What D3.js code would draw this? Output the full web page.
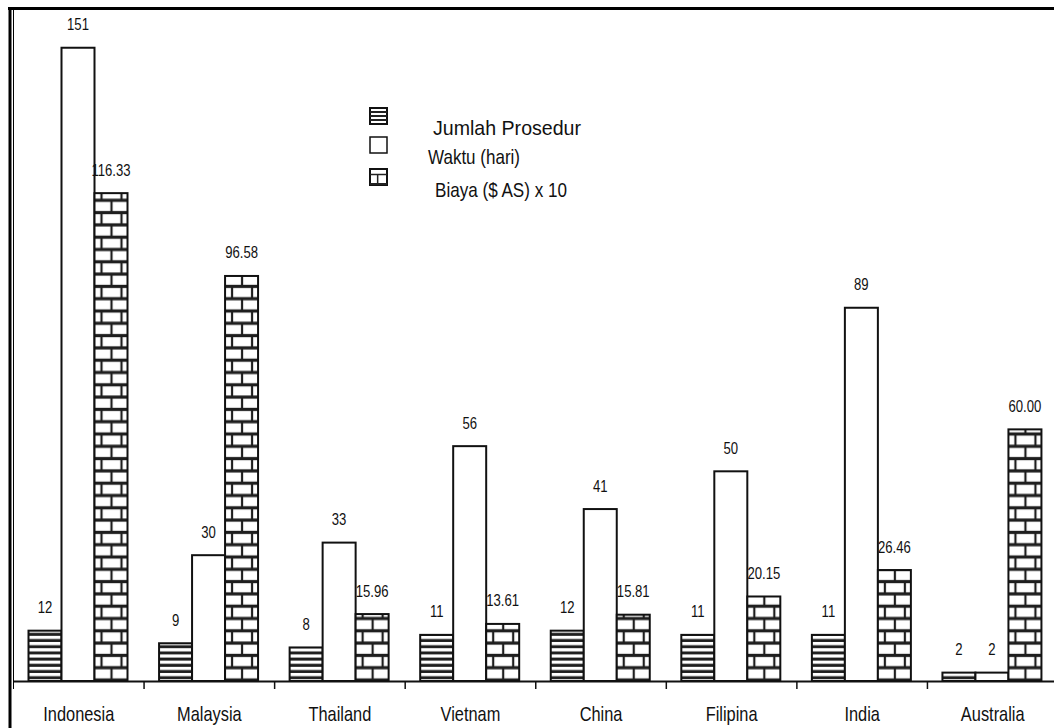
<!DOCTYPE html>
<html><head><meta charset="utf-8">
<script src="https://cdnjs.cloudflare.com/ajax/libs/d3/7.8.5/d3.min.js"></script>
<style>
html,body{margin:0;padding:0;background:#fff;}
svg{display:block;}
text{font-family:"Liberation Sans",Arial,sans-serif;fill:#111;}
</style></head>
<body>
<svg id="chart" width="1054" height="728"></svg>
<script>
const categories = ["Indonesia","Malaysia","Thailand","Vietnam","China","Filipina","India","Australia"];
const jumlahProsedur = [12,9,8,11,12,11,11,2];
const waktuHari = [151,30,33,56,41,50,89,2];
const biayaX10 = [116.33,96.58,15.96,13.61,15.81,20.15,26.46,60.00];
const seriesNames = ["Jumlah Prosedur","Waktu (hari)","Biaya ($ AS) x 10"];
const seriesKeys = ["jumlah","waktu","biaya"];
const yDomain = [0,160];

const svg = d3.select("#chart");
const W = 1054, H = 728;
const baseY = 681, topY = 10;
const SX = 0.82; // narrow text

const x0 = d3.scaleBand().domain(categories).range([13.5, 1058]).paddingInner(0).paddingOuter(0);
const groupW = 99;
const off = 15;
const x1 = d3.scaleBand().domain(seriesKeys).range([off, off+groupW]).padding(0);
const y = d3.scaleLinear().domain(yDomain).range([baseY, topY]);

const rows = [];
categories.forEach((c,i)=>{
  rows.push({cat:c, key:"jumlah", v:jumlahProsedur[i], label:String(jumlahProsedur[i])});
  rows.push({cat:c, key:"waktu", v:waktuHari[i], label:String(waktuHari[i])});
  rows.push({cat:c, key:"biaya", v:biayaX10[i], label:biayaX10[i].toFixed(2)});
});

const defs = svg.append("defs");
const rowH = 12.3;
const ink = "#1e1e1e";
rows.forEach((d,i)=>{
  const bx = x0(d.cat)+x1(d.key);
  d.id = "pat"+i;
  if(d.key==="jumlah"){
    const p = defs.append("pattern").attr("id",d.id).attr("patternUnits","userSpaceOnUse")
      .attr("x",bx).attr("y",baseY).attr("width",40).attr("height",6.2);
    p.append("rect").attr("width",40).attr("height",6.2).attr("fill","#fff");
    p.append("rect").attr("y",1.4).attr("width",40).attr("height",3).attr("fill",ink);
  } else if(d.key==="biaya"){
    const p = defs.append("pattern").attr("id",d.id).attr("patternUnits","userSpaceOnUse")
      .attr("x",bx+7).attr("y",baseY-13.3).attr("width",20).attr("height",rowH*2);
    p.append("rect").attr("width",20).attr("height",rowH*2).attr("fill","#fff");
    [0,rowH,rowH*2].forEach(yy=>p.append("rect").attr("x",0).attr("y",yy-1.6).attr("width",20).attr("height",3.2).attr("fill",ink));
    p.append("rect").attr("x",8.9).attr("y",0).attr("width",2.2).attr("height",rowH).attr("fill",ink);
    p.append("rect").attr("x",-1.1).attr("y",rowH).attr("width",2.2).attr("height",rowH).attr("fill",ink);
    p.append("rect").attr("x",18.9).attr("y",rowH).attr("width",2.2).attr("height",rowH).attr("fill",ink);
  }
});

// bars
svg.append("g").selectAll("rect").data(rows).join("rect")
  .attr("x", d=>x0(d.cat)+x1(d.key))
  .attr("y", d=>y(d.v))
  .attr("width", x1.bandwidth())
  .attr("height", d=>baseY-y(d.v))
  .attr("fill", d=>d.key==="waktu" ? "#fff" : `url(#${d.id})`)
  .attr("stroke","#111").attr("stroke-width",2);

// value labels
svg.append("g").selectAll("text").data(rows).join("text")
  .attr("transform", d=>`translate(${x0(d.cat)+x1(d.key)+x1.bandwidth()/2},${y(d.v)-17.5}) scale(${SX},1)`)
  .attr("text-anchor","middle")
  .attr("font-size",16)
  .text(d=>d.label);

// axis
const ax = svg.append("g").attr("transform",`translate(0,${baseY})`)
  .call(d3.axisBottom(x0).tickSize(0).tickPadding(0));
ax.select(".domain").attr("stroke","#111").attr("stroke-width",2).attr("d",`M13,0.5H1054`);
ax.selectAll(".tick text").attr("y",0).attr("dy",0)
  .attr("transform",`translate(0,40) scale(${SX},1)`)
  .attr("font-size",20)
  .style("font-family",'"Liberation Sans",Arial,sans-serif').attr("fill","#111");
// boundary ticks
svg.append("g").selectAll("line").data(categories.slice(1)).join("line")
  .attr("x1",d=>x0(d)).attr("x2",d=>x0(d))
  .attr("y1",baseY).attr("y2",baseY+8)
  .attr("stroke","#111").attr("stroke-width",1.5);

// frame
svg.append("line").attr("x1",8).attr("x2",W).attr("y1",8.5).attr("y2",8.5).attr("stroke","#000").attr("stroke-width",3);
svg.append("line").attr("x1",10).attr("x2",10).attr("y1",7).attr("y2",H).attr("stroke","#000").attr("stroke-width",3);
svg.append("line").attr("x1",13.5).attr("x2",13.5).attr("y1",10).attr("y2",baseY+8).attr("stroke","#000").attr("stroke-width",1);

// legend
const leg = svg.append("g");
const lx = 370, lw = 17, lh = 16;
const legY = [108, 137, 169];
const textX = [433, 428, 435];
const textY = [135, 164, 197];
const textW = [148, 92, 132];
seriesNames.forEach((name,i)=>{
  const g = leg.append("g").attr("transform",`translate(${lx},${legY[i]})`);
  if(i===0){
    g.append("rect").attr("width",lw).attr("height",lh).attr("fill","#fff").attr("stroke","#111").attr("stroke-width",2);
    [4,8,12].forEach(yy=>g.append("line").attr("x1",0).attr("x2",lw).attr("y1",yy).attr("y2",yy).attr("stroke","#222").attr("stroke-width",2));
  } else if(i===1){
    g.append("rect").attr("width",lw).attr("height",lh).attr("fill","#fff").attr("stroke","#111").attr("stroke-width",1.5);
  } else {
    g.append("rect").attr("width",lw).attr("height",lh).attr("fill","#fff").attr("stroke","#111").attr("stroke-width",2);
    g.append("line").attr("x1",0).attr("x2",lw).attr("y1",5.5).attr("y2",5.5).attr("stroke","#222").attr("stroke-width",1.5);
    g.append("line").attr("x1",0).attr("x2",lw).attr("y1",lh-1).attr("y2",lh-1).attr("stroke","#222").attr("stroke-width",2);
    g.append("line").attr("x1",lw*0.45).attr("x2",lw*0.45).attr("y1",5.5).attr("y2",lh).attr("stroke","#222").attr("stroke-width",1.5);
  }
  leg.append("text").attr("x",textX[i]).attr("y",textY[i]).attr("font-size",21)
    .attr("textLength",textW[i]).attr("lengthAdjust","spacingAndGlyphs").text(name);
});
</script>
</body></html>
